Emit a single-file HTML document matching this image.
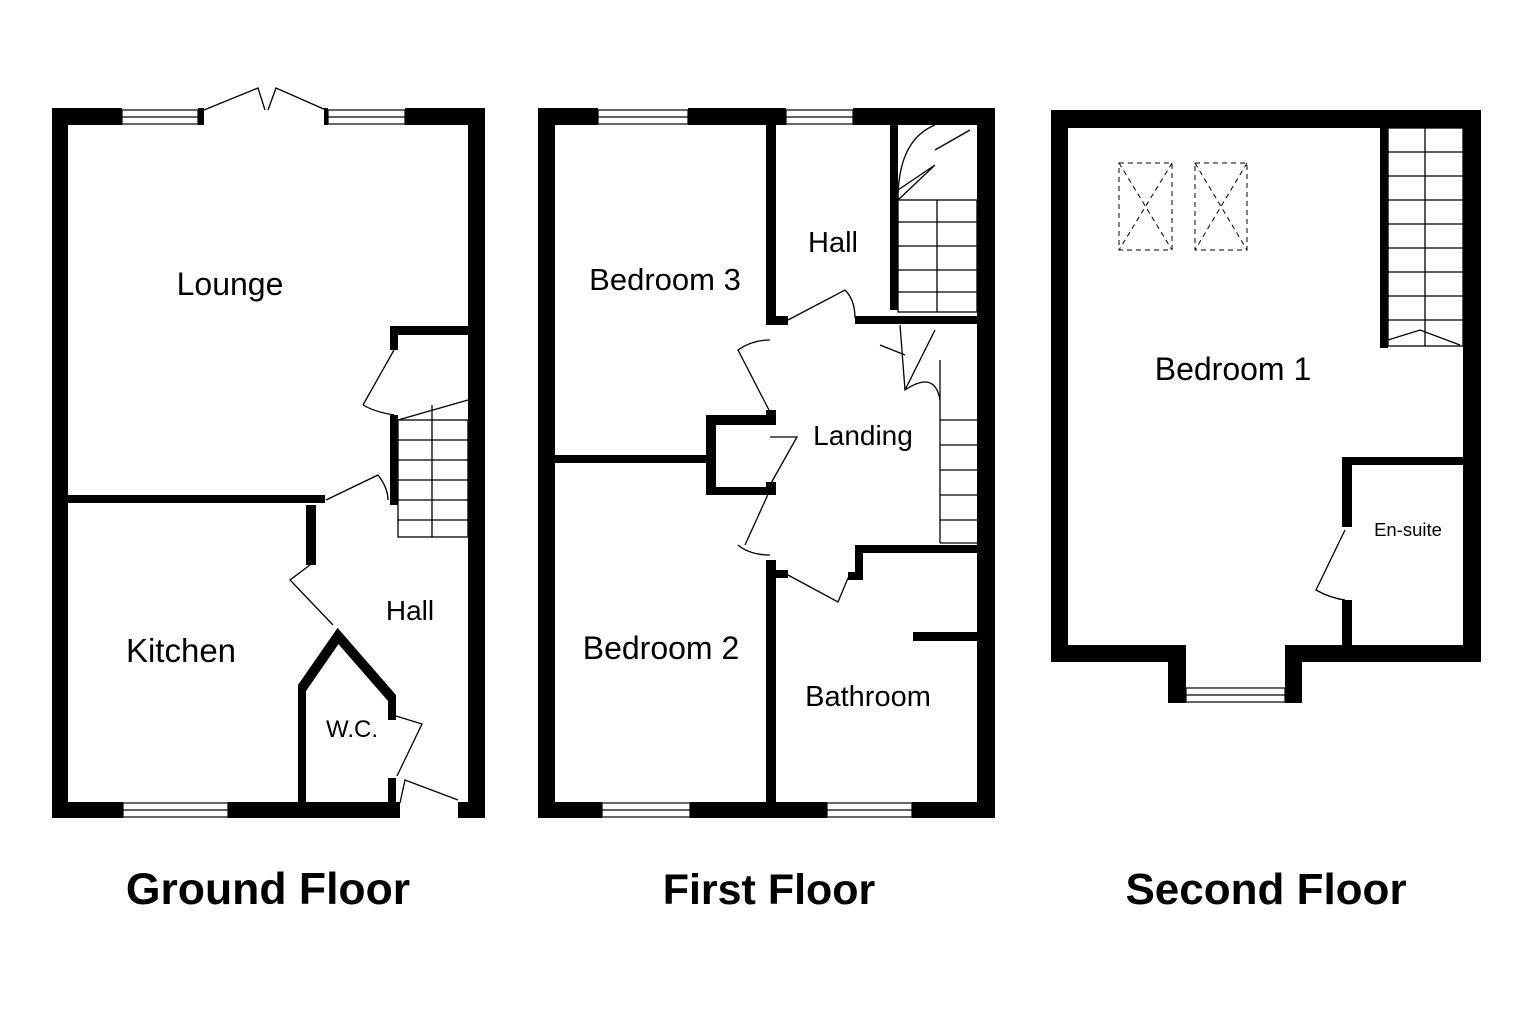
<!DOCTYPE html>
<html><head><meta charset="utf-8"><style>body{margin:0;background:#fff}svg{display:block}</style></head><body>
<svg width="1536" height="1024" viewBox="0 0 1536 1024" xmlns="http://www.w3.org/2000/svg" font-family="Liberation Sans, sans-serif">
<rect width="1536" height="1024" fill="#fff"/>
<g fill="#000">
<!-- Ground floor -->
<rect x="52" y="108" width="70" height="17"/><rect x="198" y="108" width="6" height="17"/><rect x="324" y="108" width="4" height="17"/><rect x="405" y="108" width="80" height="17"/>
<rect x="52" y="108" width="16" height="710"/><rect x="468" y="108" width="17" height="710"/>
<rect x="52" y="802" width="71" height="16"/><rect x="228" y="802" width="172" height="16"/><rect x="458" y="802" width="27" height="16"/>
<rect x="68" y="495" width="257" height="8"/>
<rect x="306" y="505" width="10" height="60"/>
<rect x="390" y="326" width="78" height="9"/><rect x="390" y="326" width="8" height="24"/><rect x="390" y="415" width="8" height="90"/>
<rect x="298" y="685" width="8" height="117"/><rect x="388" y="695" width="8" height="25"/><rect x="388" y="778" width="8" height="24"/>
<!-- First floor -->
<rect x="538" y="108" width="60" height="17"/><rect x="688" y="108" width="98" height="17"/><rect x="853" y="108" width="142" height="17"/>
<rect x="538" y="108" width="17" height="710"/><rect x="977" y="108" width="18" height="710"/>
<rect x="538" y="802" width="64" height="16"/><rect x="690" y="802" width="137" height="16"/><rect x="912" y="802" width="83" height="16"/>
<rect x="766" y="125" width="10" height="200"/><rect x="766" y="316" width="22" height="9"/>
<rect x="890" y="125" width="8" height="185"/><rect x="855" y="316" width="122" height="8"/>
<rect x="555" y="455" width="151" height="8"/>
<rect x="706" y="415" width="10" height="80"/><rect x="706" y="415" width="70" height="10"/><rect x="706" y="487" width="70" height="8"/>
<rect x="766" y="410" width="10" height="15"/><rect x="766" y="482" width="10" height="13"/>
<rect x="766" y="560" width="10" height="242"/><rect x="766" y="570" width="22" height="8"/>
<rect x="855" y="545" width="122" height="8"/><rect x="855" y="545" width="8" height="35"/><rect x="848" y="572" width="15" height="8"/>
<rect x="913" y="632" width="64" height="9"/>
<!-- Second floor -->
<rect x="1051" y="110" width="430" height="18"/>
<rect x="1051" y="110" width="17" height="552"/><rect x="1463" y="110" width="18" height="552"/>
<rect x="1051" y="645" width="135" height="17"/><rect x="1285" y="645" width="196" height="17"/>
<rect x="1168" y="645" width="18" height="58"/><rect x="1285" y="645" width="17" height="58"/>
<rect x="1168" y="687" width="18" height="16"/><rect x="1285" y="687" width="17" height="16"/>
<rect x="1380" y="128" width="8" height="220"/>
<rect x="1342" y="457" width="121" height="8"/><rect x="1342" y="457" width="10" height="70"/><rect x="1342" y="600" width="10" height="45"/>
</g>
<g stroke="#000" fill="none">
<path d="M302 688 L338 636 L392 698" stroke-width="10"/>
</g>
<g fill="#fff" stroke="#000" stroke-width="1.2">
<rect x="122" y="110" width="76" height="14"/><line x1="122" y1="117" x2="198" y2="117"/>
<rect x="328" y="110" width="77" height="14"/><line x1="328" y1="117" x2="405" y2="117"/>
<rect x="123" y="803" width="105" height="14"/><line x1="123" y1="810" x2="228" y2="810"/>
<rect x="598" y="110" width="90" height="14"/><line x1="598" y1="117" x2="688" y2="117"/>
<rect x="786" y="110" width="67" height="14"/><line x1="786" y1="117" x2="853" y2="117"/>
<rect x="602" y="803" width="88" height="14"/><line x1="602" y1="810" x2="690" y2="810"/>
<rect x="827" y="803" width="85" height="14"/><line x1="827" y1="810" x2="912" y2="810"/>
<rect x="1186" y="688" width="99" height="14"/><line x1="1186" y1="695" x2="1285" y2="695"/>
</g>
<g stroke="#000" fill="none" stroke-width="1.3">
<path d="M204 110 L258 88 L265 110 M326 110 L276 88 L268 110"/>
<path d="M394 350 L363 405 M363 405 Q375 412 394 415"/>
<path d="M326 500 L378 475 Q388 488 388 500"/>
<path d="M310 565 L290 580 L333 625"/>
<path d="M396 716 L422 724 L397 776"/>
<path d="M400 803 L405 780 L458 800"/>
<rect x="398" y="420" width="70" height="117"/>
<path d="M398 440h70M398 460h70M398 480h70M398 500h70M398 520h70M432 420v117M432 405v15M398 420L468 400"/>
<path d="M788 320 L845 290 Q855 300 855 318"/>
<path d="M770 412 L738 350 Q752 340 770 340"/>
<path d="M770 437 L797 437 L770 485 M745 545 L770 490"/>
<path d="M738 545 Q750 555 770 555"/>
<path d="M788 575 L838 602 L848 578"/>
<rect x="898" y="200" width="79" height="112"/>
<path d="M898 222h79M898 246h79M898 270h79M898 292h79M937 200v112M898 200 Q898 140 935 125 M898 200 L935 165 L898 190 M935 150 L970 130"/>
<path d="M940 360 Q940 380 940 543 M940 420h37M940 445h37M940 470h37M940 495h37M940 520h37M940 543h37M900 325 L905 390 Q935 370 940 400 M880 345 L905 355 M905 390 L935 330"/>
<rect x="1388" y="128" width="75" height="218"/>
<path d="M1388 152h75M1388 176h75M1388 200h75M1388 224h75M1388 248h75M1388 272h75M1388 296h75M1388 320h75M1425 128v218M1388 340 L1420 330 L1460 345"/>
<path d="M1345 530 L1316 590 Q1330 598 1345 600"/>
</g>
<g stroke="#000" fill="none" stroke-width="1" stroke-dasharray="5,4">
<rect x="1119" y="163" width="53" height="87"/><path d="M1119 163L1172 250M1172 163L1119 250"/>
<rect x="1195" y="163" width="52" height="87"/><path d="M1195 163L1247 250M1247 163L1195 250"/>
</g>
<g fill="#000" text-anchor="middle">
<text x="230" y="295" font-size="32">Lounge</text>
<text x="181" y="662" font-size="33">Kitchen</text>
<text x="410" y="620" font-size="28">Hall</text>
<text x="352" y="737" font-size="24">W.C.</text>
<text x="665" y="290" font-size="31">Bedroom 3</text>
<text x="833" y="252" font-size="29">Hall</text>
<text x="863" y="445" font-size="28">Landing</text>
<text x="661" y="659" font-size="32">Bedroom 2</text>
<text x="868" y="706" font-size="29">Bathroom</text>
<text x="1233" y="380" font-size="32">Bedroom 1</text>
<text x="1408" y="536" font-size="18.5">En-suite</text>
<g font-weight="bold">
<text x="268" y="904" font-size="44.5">Ground Floor</text>
<text x="769" y="904" font-size="43">First Floor</text>
<text x="1266" y="904" font-size="44">Second Floor</text>
</g>
</g>
</svg>
</body></html>
